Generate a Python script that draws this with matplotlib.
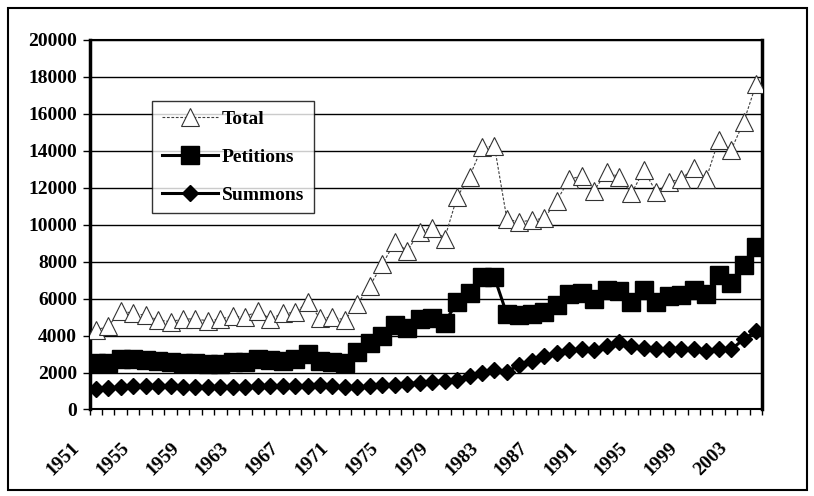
import numpy as np
import matplotlib
matplotlib.use("Agg")
import matplotlib.pyplot as plt
import matplotlib.transforms as mtransforms
from matplotlib.patches import Rectangle

years = list(range(1951, 2005))

total = [4300, 4500, 5350, 5200, 5100, 4850, 4750, 4900, 4900, 4800,
         4900, 5050, 5000, 5350, 4900, 5200, 5250, 5800, 4950, 5000,
         4850, 5700, 6700, 7850, 9050, 8600, 9600, 9850, 9250, 11500,
         12600, 14200, 14250, 10300, 10150, 10250, 10350, 11300, 12450, 12650,
         11850, 12850, 12600, 11700, 12950, 11750, 12300, 12500, 13050, 12500,
         14600, 14050, 15550, 17600]

petitions = [2500, 2500, 2750, 2750, 2700, 2600, 2550, 2500, 2500, 2450,
             2450, 2550, 2550, 2750, 2700, 2650, 2750, 3000, 2650, 2550,
             2500, 3100, 3600, 4000, 4550, 4400, 4900, 4950, 4700, 5800,
             6300, 7150, 7150, 5150, 5100, 5150, 5250, 5650, 6250, 6300,
             6000, 6450, 6400, 5800, 6450, 5800, 6150, 6200, 6450, 6250,
             7300, 6850, 7800, 8800]

summons = [1100, 1150, 1200, 1250, 1250, 1250, 1250, 1200, 1200, 1200,
           1200, 1200, 1200, 1250, 1250, 1250, 1250, 1250, 1300, 1250,
           1200, 1200, 1250, 1300, 1350, 1400, 1450, 1500, 1550, 1600,
           1800, 2000, 2150, 2050, 2400, 2650, 2900, 3050, 3200, 3300,
           3200, 3450, 3650, 3450, 3350, 3300, 3300, 3300, 3250, 3150,
           3300, 3250, 3800, 4250]

plt.rcParams['font.family'] = ['Liberation Serif', 'DejaVu Serif']

fig = plt.figure(figsize=(8.14, 4.96), dpi=100)
ax = fig.add_axes([0.110, 0.1744, 0.8265, 0.7450])

x = np.arange(len(years))

ax.plot(x, total, color='0.25', lw=0.8, ls=(0, (2.5, 1.5)), marker='^', ms=13,
        mfc='white', mec='0.2', mew=0.8, label='Total', zorder=3)
ax.plot(x, petitions, color='black', lw=2.2, marker='s', ms=12.5,
        mfc='black', mec='black', label='Petitions', zorder=4)
ax.plot(x, summons, color='black', lw=2.2, marker='D', ms=8.5,
        mfc='black', mec='black', label='Summons', zorder=5)

ax.set_xlim(-0.5, len(years) - 0.5)
ax.set_ylim(0, 20000)
ax.set_yticks(range(0, 20001, 2000))
ax.set_yticklabels([str(v) for v in range(0, 20001, 2000)],
                   fontsize=14, fontweight='bold')
ax.yaxis.grid(True, color='black', lw=1)
ax.set_axisbelow(True)

ax.set_xticks(x[::4])
ax.set_xticklabels([str(y) for y in years[::4]], rotation=45, ha='right',
                   rotation_mode='anchor', fontsize=14, fontweight='bold')
ax.set_xticks(np.arange(-0.5, len(years), 1), minor=True)
ax.tick_params(axis='x', which='major', length=0, pad=14)
ax.tick_params(axis='x', which='minor', length=4, width=1, direction='out')
ax.tick_params(axis='y', length=5, width=1, direction='out', pad=4)

# shift the rotated year labels down and left like the original
shift = mtransforms.ScaledTranslation(-25 / 100, -10 / 100, fig.dpi_scale_trans)
for lbl in ax.get_xticklabels():
    lbl.set_transform(lbl.get_transform() + shift)

for side in ['left', 'right']:
    ax.spines[side].set_linewidth(2.5)
for side in ['top', 'bottom']:
    ax.spines[side].set_linewidth(1.5)

leg = ax.legend(loc='upper left', bbox_to_anchor=(0.093, 0.835),
                prop={'size': 14, 'weight': 'bold'}, frameon=True,
                fancybox=False, edgecolor='black', handlelength=2.9,
                handletextpad=0.2, borderpad=0.5, labelspacing=1.03,
                borderaxespad=0)
leg.get_frame().set_linewidth(1)

fig.patches.append(Rectangle((0.01, 0.012), 0.982, 0.972, transform=fig.transFigure,
                             fill=False, edgecolor='black', lw=1.5))

fig.savefig('out.png', dpi=100)
